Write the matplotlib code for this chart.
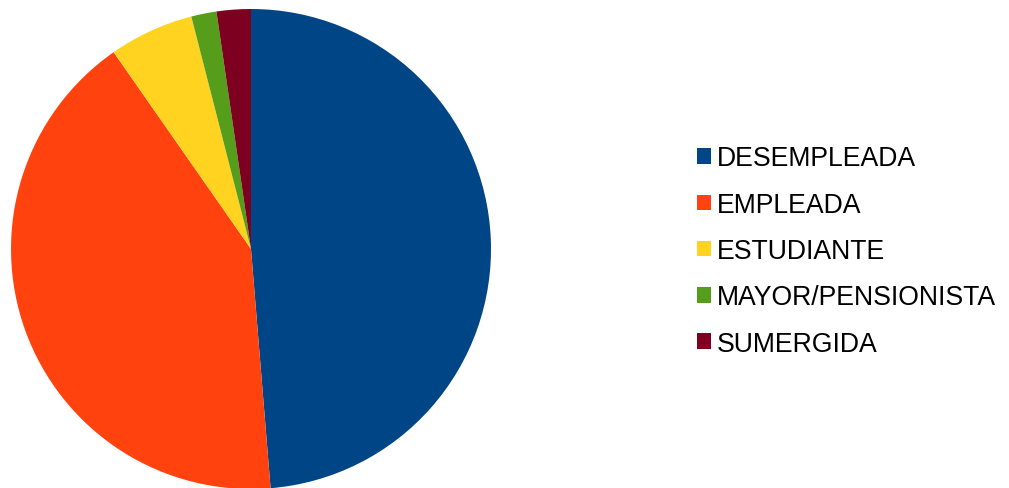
import matplotlib.pyplot as plt

plt.rcParams['font.family'] = ['Liberation Sans', 'DejaVu Sans']

# Data (percent shares)
labels = ['DESEMPLEADA', 'EMPLEADA', 'ESTUDIANTE', 'MAYOR/PENSIONISTA', 'SUMERGIDA']
values = [48.7, 41.6, 5.7, 1.7, 2.3]
colors = ['#004586', '#ff420e', '#ffd320', '#579d1c', '#7e0021']

fig = plt.figure(figsize=(10.09, 4.89), dpi=100)
ax = fig.add_axes([11 / 1009, -1 / 489, 480 / 1009, 480 / 489])

wedges, _ = ax.pie(values, colors=colors, startangle=90, counterclock=False,
                   radius=1.0, wedgeprops=dict(linewidth=0))
ax.set_xlim(-1, 1)
ax.set_ylim(-1, 1)
ax.set_aspect('equal')

fig.legend(wedges, labels, loc='center left',
           bbox_to_anchor=(697 / 1009, 1 - 252 / 489),
           frameon=False, fontsize=19.2, borderaxespad=0, borderpad=0,
           handlelength=0.52, handleheight=0.52, handletextpad=0.23,
           labelspacing=0.76)

fig.savefig('out.png', dpi=100)
